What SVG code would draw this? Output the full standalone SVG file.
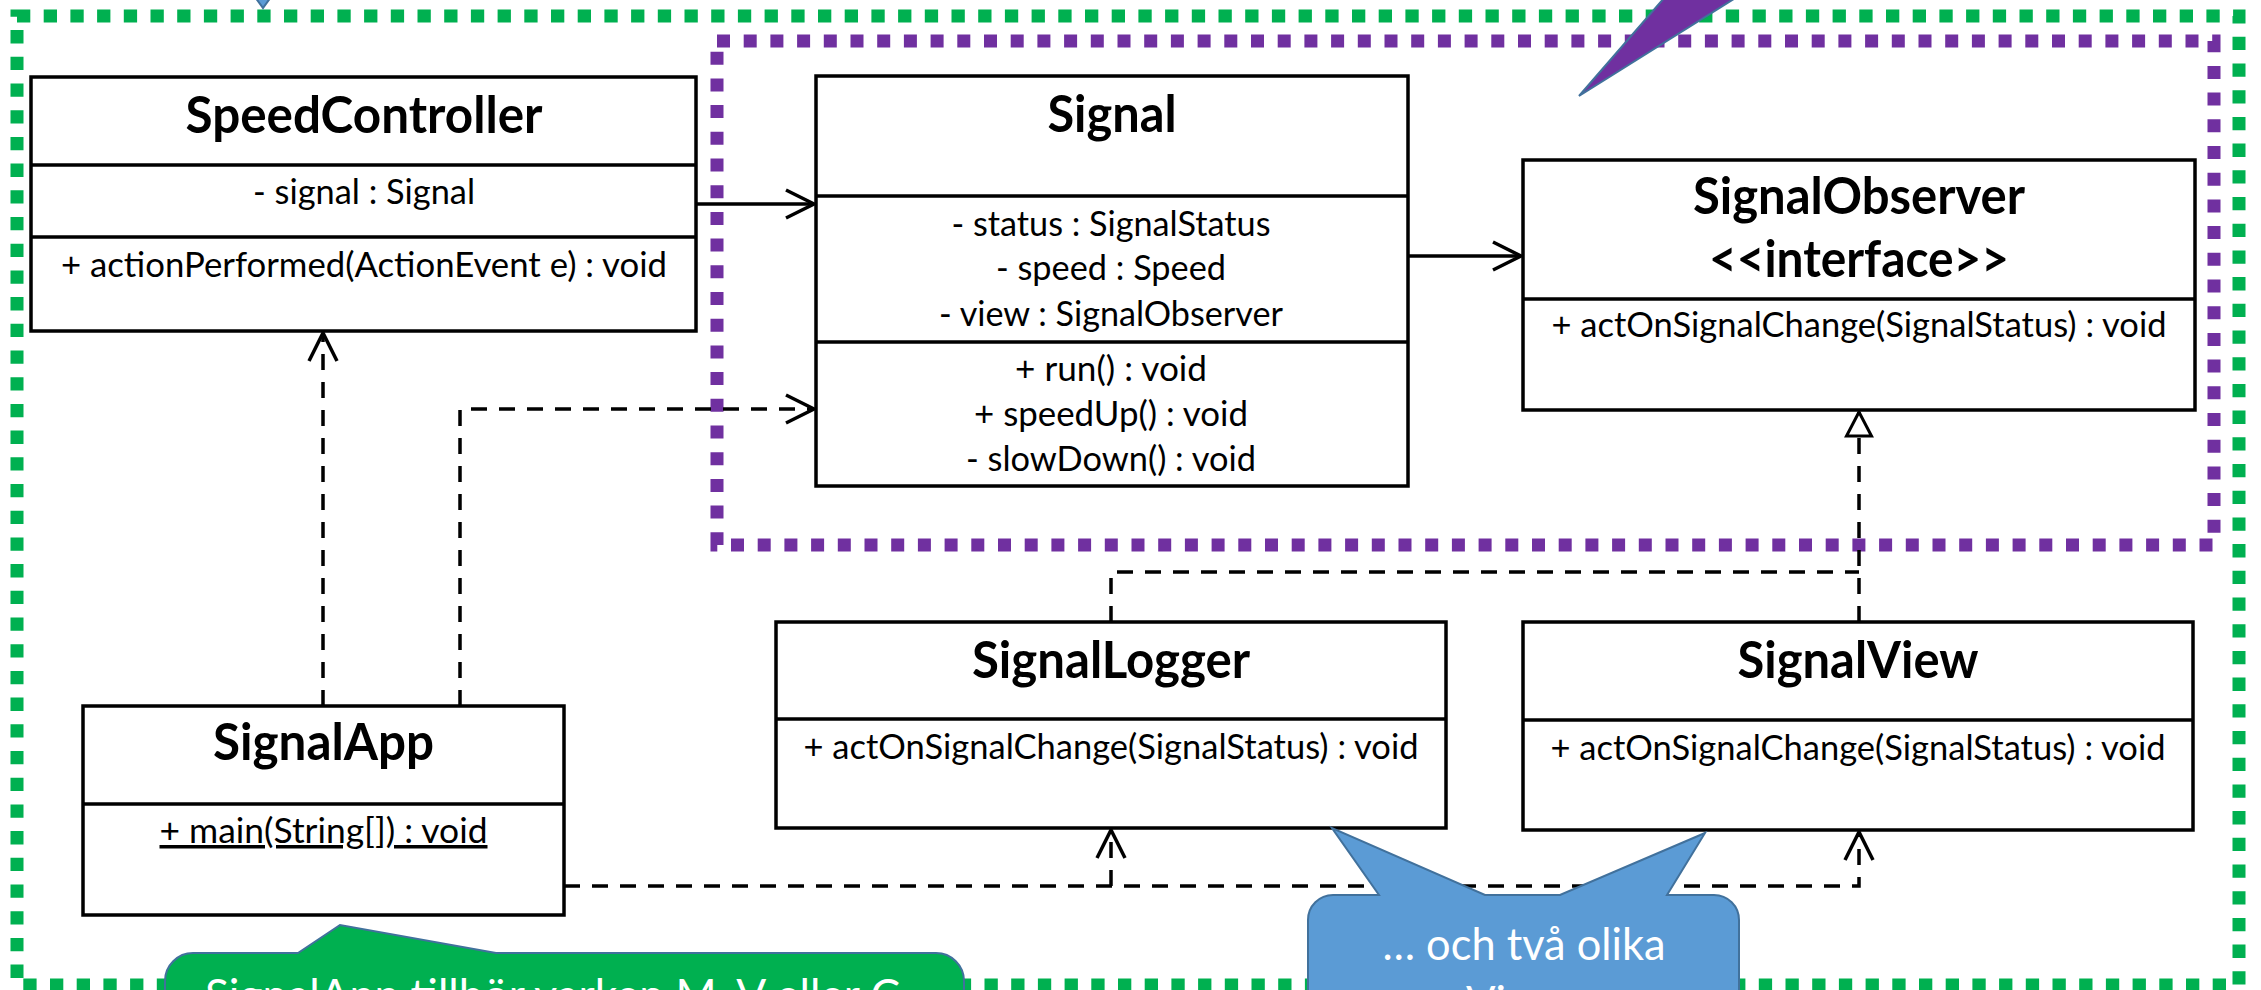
<svg xmlns="http://www.w3.org/2000/svg" width="2261" height="990" viewBox="0 0 2261 990">
<style>
  text{font-family:Lato,"Liberation Sans",sans-serif;fill:#000;text-anchor:middle}
  .title{font-weight:bold;font-size:51px}
  .mem{font-size:35px}
  .box{fill:#fff;stroke:#000;stroke-width:3.5}
  .sep{stroke:#000;stroke-width:3.5}
  .conn{fill:none;stroke:#000;stroke-width:3.5}
  .dash{stroke-dasharray:16 12}
  .note{font-size:44px;fill:#fff}
  .callout{stroke:#41719C;stroke-width:2}
</style>
<defs>
  <marker id="open" markerUnits="userSpaceOnUse" orient="auto" overflow="visible" markerWidth="32" markerHeight="32" refX="0" refY="0">
    <path d="M-28,-14 L0,0 L-28,14" fill="none" stroke="#000" stroke-width="3.5"/>
  </marker>
  <marker id="tri" markerUnits="userSpaceOnUse" orient="auto" overflow="visible" markerWidth="30" markerHeight="30" refX="0" refY="0">
    <path d="M0,0 L-24,-12.5 L-24,12.5 Z" fill="#fff" stroke="#000" stroke-width="3"/>
  </marker>
</defs>

<g id="packages">
  <rect x="17" y="16" width="2222" height="969" fill="none" stroke="#00B050" stroke-width="13" stroke-dasharray="13.3 13.4"/>
  <rect x="717" y="41" width="1497" height="504" fill="none" stroke="#7030A0" stroke-width="13" stroke-dasharray="13 13.7"/>
</g>

<g id="connectors">
  <path class="conn" d="M695,204 H814" marker-end="url(#open)"/>
  <path class="conn" d="M1408,256 H1521" marker-end="url(#open)"/>
  <path class="conn dash" d="M323,706 V333" marker-end="url(#open)"/>
  <path class="conn dash" d="M460,706 V409 H814" marker-end="url(#open)"/>
  <path class="conn dash" d="M564,886 H1859 V832" marker-end="url(#open)"/>
  <path class="conn dash" d="M1111,886 V830" marker-end="url(#open)"/>
  <path class="conn dash" d="M1111,622 V572 H1859"/>
  <path class="conn dash" d="M1859,622 V412" marker-end="url(#tri)"/>
</g>

<g id="SpeedController">
  <rect class="box" x="31" y="77" width="665" height="254"/>
  <line class="sep" x1="31" y1="165" x2="696" y2="165"/>
  <line class="sep" x1="31" y1="237" x2="696" y2="237"/>
  <text class="title" x="364" y="133" textLength="357" lengthAdjust="spacingAndGlyphs">SpeedController</text>
  <text class="mem" x="364" y="204" textLength="222" lengthAdjust="spacingAndGlyphs">- signal : Signal</text>
  <text class="mem" x="364" y="277" textLength="606" lengthAdjust="spacingAndGlyphs">+ actionPerformed(ActionEvent e) : void</text>
</g>

<g id="Signal">
  <rect class="box" x="816" y="76" width="592" height="410"/>
  <line class="sep" x1="816" y1="196" x2="1408" y2="196"/>
  <line class="sep" x1="816" y1="342" x2="1408" y2="342"/>
  <text class="title" x="1112" y="132" textLength="129" lengthAdjust="spacingAndGlyphs">Signal</text>
  <text class="mem" x="1111" y="236" textLength="319" lengthAdjust="spacingAndGlyphs">- status : SignalStatus</text>
  <text class="mem" x="1111" y="280" textLength="230" lengthAdjust="spacingAndGlyphs">- speed : Speed</text>
  <text class="mem" x="1111" y="326" textLength="344" lengthAdjust="spacingAndGlyphs">- view : SignalObserver</text>
  <text class="mem" x="1111" y="381" textLength="192" lengthAdjust="spacingAndGlyphs">+ run() : void</text>
  <text class="mem" x="1111" y="426" textLength="274" lengthAdjust="spacingAndGlyphs">+ speedUp() : void</text>
  <text class="mem" x="1111" y="471" textLength="290" lengthAdjust="spacingAndGlyphs">- slowDown() : void</text>
</g>

<g id="SignalObserver">
  <rect class="box" x="1523" y="160" width="672" height="250"/>
  <line class="sep" x1="1523" y1="299" x2="2195" y2="299"/>
  <text class="title" x="1859" y="214" textLength="332" lengthAdjust="spacingAndGlyphs">SignalObserver</text>
  <text class="title" x="1859" y="277" textLength="300" lengthAdjust="spacingAndGlyphs">&lt;&lt;interface&gt;&gt;</text>
  <text class="mem" x="1859" y="337" textLength="615" lengthAdjust="spacingAndGlyphs">+ actOnSignalChange(SignalStatus) : void</text>
</g>

<g id="SignalApp">
  <rect class="box" x="83" y="706" width="481" height="209"/>
  <line class="sep" x1="83" y1="804" x2="564" y2="804"/>
  <text class="title" x="323.5" y="760" textLength="221" lengthAdjust="spacingAndGlyphs">SignalApp</text>
  <text class="mem" x="323.5" y="843" textLength="328" lengthAdjust="spacingAndGlyphs" text-decoration="underline">+ main(String[]) : void</text>
</g>

<g id="SignalLogger">
  <rect class="box" x="776" y="622" width="670" height="206"/>
  <line class="sep" x1="776" y1="719" x2="1446" y2="719"/>
  <text class="title" x="1111" y="678" textLength="278" lengthAdjust="spacingAndGlyphs">SignalLogger</text>
  <text class="mem" x="1111" y="759" textLength="615" lengthAdjust="spacingAndGlyphs">+ actOnSignalChange(SignalStatus) : void</text>
</g>

<g id="SignalView">
  <rect class="box" x="1523" y="622" width="670" height="208"/>
  <line class="sep" x1="1523" y1="720" x2="2193" y2="720"/>
  <text class="title" x="1858" y="678" textLength="241" lengthAdjust="spacingAndGlyphs">SignalView</text>
  <text class="mem" x="1858" y="760" textLength="615" lengthAdjust="spacingAndGlyphs">+ actOnSignalChange(SignalStatus) : void</text>
</g>

<g id="callouts">
  <polygon class="callout" points="255,-3 271,-3 263,8" fill="#5B9BD5"/>
  <polygon class="callout" points="1665,-3 1737,-3 1579,96" fill="#7030A0"/>
  <g id="callout-signalapp">
    <path class="callout" fill="#00B050" d="M165,1000 V981 A28,28 0 0 1 193,953 H298 L340,925 L496,953 H936 A28,28 0 0 1 964,981 V1000 Z"/>
    <text class="note" x="205" y="1011" style="text-anchor:start" textLength="695" lengthAdjust="spacingAndGlyphs">SignalApp tillhör varken M, V eller C</text>
  </g>
  <g id="callout-views">
    <path class="callout" fill="#5B9BD5" d="M1308,1000 V920 A25,25 0 0 1 1333,895 H1379 L1332,828 L1485,895 H1560 L1705,833 L1667,895 H1714 A25,25 0 0 1 1739,920 V1000 Z"/>
    <text class="note" x="1524" y="960" textLength="283" lengthAdjust="spacingAndGlyphs">… och två olika</text>
    <text class="note" x="1524" y="1018" textLength="116" lengthAdjust="spacingAndGlyphs">Views</text>
  </g>
</g>
</svg>
